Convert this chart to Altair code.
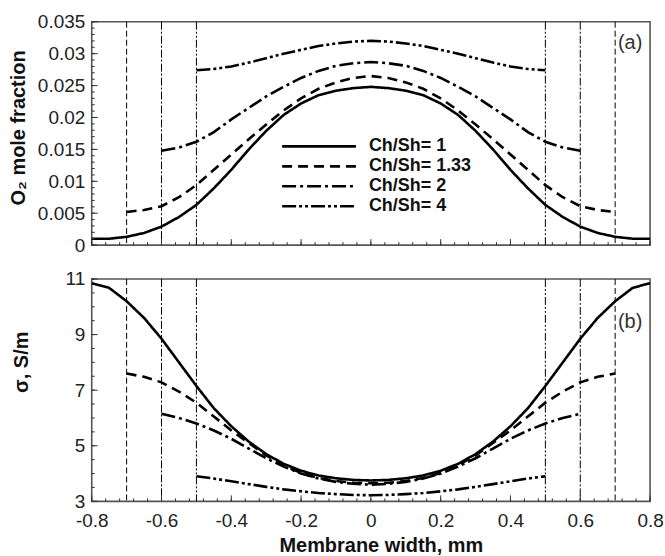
import altair as alt
import pandas as pd

SERIES = ["Ch/Sh= 1", "Ch/Sh= 1.33", "Ch/Sh= 2", "Ch/Sh= 4"]
PANEL_LABELS = ["(a)", "(b)"]

# x positions (membrane width, mm)
x_1 = [-0.8, -0.75, -0.7, -0.65, -0.6, -0.55, -0.5, -0.45, -0.4, -0.35, -0.3, -0.25, -0.2, -0.15, -0.1, -0.05,
       0.0, 0.05, 0.1, 0.15, 0.2, 0.25, 0.3, 0.35, 0.4, 0.45, 0.5, 0.55, 0.6, 0.65, 0.7, 0.75, 0.8]
x_133 = [-0.7, -0.65, -0.6, -0.55, -0.5, -0.45, -0.4, -0.35, -0.3, -0.25, -0.2, -0.15, -0.1, -0.05,
         0.0, 0.05, 0.1, 0.15, 0.2, 0.25, 0.3, 0.35, 0.4, 0.45, 0.5, 0.55, 0.6, 0.65, 0.7]
x_2 = [-0.6, -0.55, -0.5, -0.45, -0.4, -0.35, -0.3, -0.25, -0.2, -0.15, -0.1, -0.05,
       0.0, 0.05, 0.1, 0.15, 0.2, 0.25, 0.3, 0.35, 0.4, 0.45, 0.5, 0.55, 0.6]
x_4 = [-0.5, -0.45, -0.4, -0.35, -0.3, -0.25, -0.2, -0.15, -0.1, -0.05,
       0.0, 0.05, 0.1, 0.15, 0.2, 0.25, 0.3, 0.35, 0.4, 0.45, 0.5]

# (a) O2 mole fraction
o2_1 = [0.0010, 0.0010, 0.0013, 0.0019, 0.0029, 0.0044, 0.0063, 0.0089, 0.0118, 0.0150, 0.0179, 0.0204,
        0.0222, 0.0235, 0.0242, 0.0246, 0.0248, 0.0246, 0.0242, 0.0235, 0.0222, 0.0204, 0.0179, 0.0150,
        0.0118, 0.0089, 0.0063, 0.0044, 0.0029, 0.0019, 0.0013, 0.0010, 0.0010]
o2_133 = [0.0052, 0.0055, 0.0061, 0.0075, 0.0094, 0.0118, 0.0142, 0.0166, 0.0189, 0.0211, 0.0230, 0.0245,
          0.0255, 0.0262, 0.0265, 0.0262, 0.0255, 0.0245, 0.0230, 0.0211, 0.0189, 0.0166, 0.0142, 0.0118,
          0.0094, 0.0075, 0.0061, 0.0055, 0.0052]
o2_2 = [0.0148, 0.0153, 0.0162, 0.0177, 0.0197, 0.0215, 0.0233, 0.0248, 0.0262, 0.0273, 0.0281, 0.0285,
        0.0287, 0.0285, 0.0281, 0.0273, 0.0262, 0.0248, 0.0233, 0.0215, 0.0197, 0.0177, 0.0162, 0.0153,
        0.0148]
o2_4 = [0.0274, 0.0276, 0.0280, 0.0286, 0.0293, 0.0300, 0.0306, 0.0312, 0.0316, 0.0319, 0.0320,
        0.0319, 0.0316, 0.0312, 0.0306, 0.0300, 0.0293, 0.0286, 0.0280, 0.0276, 0.0274]

# (b) conductivity sigma, S/m
sg_1 = [10.85, 10.68, 10.2, 9.6, 8.85, 8.0, 7.15, 6.35, 5.7, 5.15, 4.7, 4.35, 4.1, 3.93, 3.83, 3.77,
        3.75, 3.77, 3.83, 3.93, 4.1, 4.35, 4.7, 5.15, 5.7, 6.35, 7.15, 8.0, 8.85, 9.6, 10.2, 10.68, 10.85]
sg_133 = [7.6, 7.48, 7.28, 6.95, 6.55, 6.05, 5.55, 5.1, 4.65, 4.3, 4.02, 3.84, 3.73, 3.67,
          3.65, 3.67, 3.73, 3.84, 4.02, 4.3, 4.65, 5.1, 5.55, 6.05, 6.55, 6.95, 7.28, 7.48, 7.6]
sg_2 = [6.15, 6.0, 5.8, 5.55, 5.25, 4.9, 4.55, 4.25, 4.0, 3.82, 3.7, 3.63,
        3.6, 3.63, 3.7, 3.82, 4.0, 4.25, 4.55, 4.9, 5.25, 5.55, 5.8, 6.0, 6.15]
sg_4 = [3.9, 3.82, 3.72, 3.62, 3.52, 3.43, 3.36, 3.3, 3.26, 3.23, 3.22,
        3.23, 3.26, 3.3, 3.36, 3.43, 3.52, 3.62, 3.72, 3.82, 3.9]

# channel edges (vertical lines)
vline_x = [-0.7, -0.6, -0.5, 0.5, 0.6, 0.7]
vline_series = ["Ch/Sh= 1.33", "Ch/Sh= 2", "Ch/Sh= 4", "Ch/Sh= 4", "Ch/Sh= 2", "Ch/Sh= 1.33"]

# axis ticks
x_major = [-0.8, -0.6, -0.4, -0.2, 0.0, 0.2, 0.4, 0.6, 0.8]
x_minor = [round(-0.8 + 0.04 * i, 2) for i in range(41)]
ya_major = [0, 0.005, 0.01, 0.015, 0.02, 0.025, 0.03, 0.035]
ya_minor = [round(0.001 * i, 3) for i in range(36)]
yb_major = [3, 5, 7, 9, 11]
yb_minor = [3 + 0.5 * i for i in range(17)]

THICK_DASH = [[1, 0], [10, 6], [14, 4, 3, 4], [14, 3, 3, 3, 3, 3]]
THIN_DASH = [[1, 0], [6, 3], [8, 2, 2, 2], [8, 2, 2, 2, 2, 2]]

W = 560
FONT = "Liberation Sans"


def long_df(xs, ys):
    rows = []
    for s, xx, yy in zip(SERIES, xs, ys):
        for a, b in zip(xx, yy):
            rows.append({"x": a, "y": b, "series": s})
    return pd.DataFrame(rows)


def panel(df, H, ydom, yvals, ymaj, ymin, yfmt, ytitle, tx, ty, plabel, ply, show_x, legend):
    xsc = alt.Scale(domain=[-0.8, 0.8], nice=False, zero=False)
    ysc = alt.Scale(domain=ydom, nice=False, zero=False)
    if show_x:
        xaxis = alt.Axis(values=x_major, title="Membrane width, mm", grid=False, domain=False, ticks=False,
                         labelPadding=10, labelFlush=False, labelOverlap=False,
                         labelExpr="datum.value == 0 ? '0' : (datum.value < 0 ? '-' : '') + format(abs(datum.value), '.1f')",
                         titleX=290, titleY=44, titleBaseline="middle", titleAlign="center")
    else:
        xaxis = None
    yaxis = alt.Axis(values=yvals, title=ytitle, grid=False, domain=False, ticks=False, labelPadding=7,
                     labelFlush=False, labelOverlap=False, labelExpr=yfmt,
                     titleAngle=270, titleAlign="center", titleBaseline="middle", titleX=tx, titleY=ty)

    curves = alt.Chart(df).mark_line(color="black", strokeWidth=2.6).encode(
        x=alt.X("x:Q", scale=xsc, axis=xaxis),
        y=alt.Y("y:Q", scale=ysc, axis=yaxis),
        strokeDash=alt.StrokeDash("series:N", scale=alt.Scale(domain=SERIES, range=THICK_DASH), legend=None),
    )
    vdf = pd.DataFrame({"vx": vline_x, "vs": vline_series})
    vlines = alt.Chart(vdf).mark_rule(color="black", strokeWidth=1).encode(
        x=alt.X("vx:Q", scale=xsc, axis=xaxis),
        strokeDash=alt.StrokeDash("vs:N", scale=alt.Scale(domain=SERIES, range=THIN_DASH), legend=None),
    )
    layers = [curves, vlines]
    for vals, ln in ((x_minor, 3), (x_major, 6)):
        layers.append(alt.Chart(pd.DataFrame({"t": vals})).mark_rule(color="#333", strokeWidth=1).encode(
            x=alt.X("t:Q", scale=xsc, axis=xaxis), y=alt.value(H), y2=alt.value(H - ln)))
    for vals, ln in ((ymin, 3), (ymaj, 6)):
        layers.append(alt.Chart(pd.DataFrame({"t": vals})).mark_rule(color="#333", strokeWidth=1).encode(
            y=alt.Y("t:Q", scale=ysc, axis=yaxis), x=alt.value(0), x2=alt.value(ln)))
    layers.append(alt.Chart(pd.DataFrame({"t": [plabel]})).mark_text(
        font=FONT, fontSize=20, color="#333", align="center", baseline="middle").encode(
        text="t:N", x=alt.value(540), y=alt.value(ply)))
    if legend:
        for i, s in enumerate(SERIES):
            yy = 125 + 20 * i
            one = pd.DataFrame({"t": [s]})
            layers.append(alt.Chart(one).mark_rule(color="black", strokeWidth=2.6, strokeDash=THICK_DASH[i]).encode(
                x=alt.value(191), x2=alt.value(265), y=alt.value(yy)))
            layers.append(alt.Chart(one).mark_text(font=FONT, fontSize=18, fontWeight="bold", color="#111",
                                                    align="left", baseline="middle").encode(
                text="t:N", x=alt.value(278), y=alt.value(yy)))
    return alt.layer(*layers).resolve_scale(strokeDash="independent").properties(width=W, height=H)


top = panel(long_df([x_1, x_133, x_2, x_4], [o2_1, o2_133, o2_2, o2_4]), 224, [0, 0.035], ya_major,
            ya_major, ya_minor, "datum.value == 0 ? '0' : format(datum.value, '.3~f')",
            "O\u2082 mole fraction", -73, 106, PANEL_LABELS[0], 21, False, True)
bottom = panel(long_df([x_1, x_133, x_2, x_4], [sg_1, sg_133, sg_2, sg_4]), 223, [3, 11], yb_major,
               yb_major, yb_minor, "format(datum.value, 'd')",
               "\u03c3, S/m", -70, 83, PANEL_LABELS[1], 43, True, False)

chart = alt.vconcat(top, bottom, spacing=34, bounds="flush").properties(
    padding={"left": 8, "top": 11, "right": 0, "bottom": 0}
).configure_view(stroke="#555", strokeWidth=1.6).configure_axis(
    labelFont=FONT, labelFontSize=19, labelColor="#222",
    titleFont=FONT, titleFontSize=20, titleFontWeight="bold", titleColor="#111",
)

chart.save("out.html", embed_options={"renderer": "svg", "actions": False})
